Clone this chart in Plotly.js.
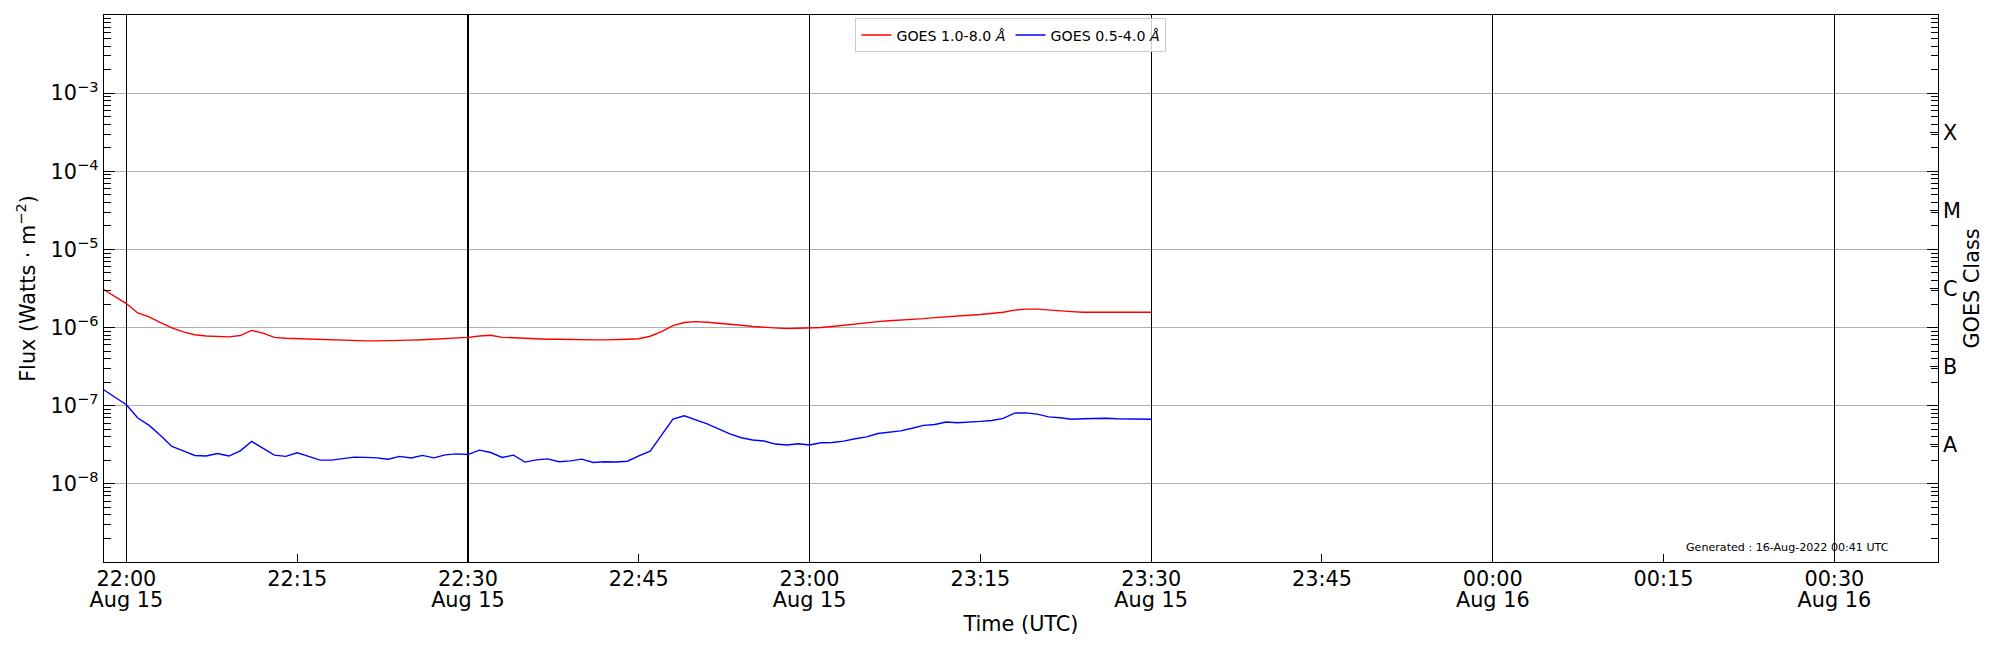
<!DOCTYPE html>
<html>
<head>
<meta charset="utf-8">
<script src="https://cdn.plot.ly/plotly-3.0.1.min.js"></script>
<style>
  html, body { margin: 0; padding: 0; background: #fff; }
  #goes { width: 2000px; height: 650px; }
</style>
</head>
<body>
<div id="goes"></div>
<script>
// 1-minute samples, 15 Aug 2022
const sampleTimes = [
  '21:58', '21:59',
  '22:00', '22:01', '22:02', '22:03', '22:04', '22:05', '22:06', '22:07', '22:08', '22:09',
  '22:10', '22:11', '22:12', '22:13', '22:14', '22:15', '22:16', '22:17', '22:18', '22:19',
  '22:20', '22:21', '22:22', '22:23', '22:24', '22:25', '22:26', '22:27', '22:28', '22:29',
  '22:30', '22:31', '22:32', '22:33', '22:34', '22:35', '22:36', '22:37', '22:38', '22:39',
  '22:40', '22:41', '22:42', '22:43', '22:44', '22:45', '22:46', '22:47', '22:48', '22:49',
  '22:50', '22:51', '22:52', '22:53', '22:54', '22:55', '22:56', '22:57', '22:58', '22:59',
  '23:00', '23:01', '23:02', '23:03', '23:04', '23:05', '23:06', '23:07', '23:08', '23:09',
  '23:10', '23:11', '23:12', '23:13', '23:14', '23:15', '23:16', '23:17', '23:18', '23:19',
  '23:20', '23:21', '23:22', '23:23', '23:24', '23:25', '23:26', '23:27', '23:28', '23:29',
  '23:30',
];

// GOES 1.0-8.0 A (W/m^2)
const fluxLong = [
  3.07e-6, 2.52e-6,
  2.03e-6, 1.54e-6, 1.37e-6, 1.16e-6, 9.9e-7, 8.8e-7, 8.1e-7, 7.8e-7, 7.7e-7, 7.6e-7,
  7.9e-7, 9.2e-7, 8.5e-7, 7.5e-7, 7.3e-7, 7.2e-7, 7.15e-7, 7.0e-7, 6.95e-7, 6.9e-7,
  6.8e-7, 6.75e-7, 6.75e-7, 6.75e-7, 6.8e-7, 6.9e-7, 7.0e-7, 7.1e-7, 7.2e-7, 7.4e-7,
  7.5e-7, 7.8e-7, 7.97e-7, 7.5e-7, 7.37e-7, 7.2e-7, 7.15e-7, 7.1e-7, 7.1e-7, 7.0e-7,
  7.0e-7, 6.95e-7, 6.95e-7, 6.95e-7, 7.1e-7, 7.2e-7, 7.74e-7, 8.9e-7, 1.06e-6, 1.16e-6,
  1.19e-6, 1.17e-6, 1.14e-6, 1.10e-6, 1.07e-6, 1.03e-6, 1.01e-6, 9.9e-7, 9.7e-7, 9.8e-7,
  9.8e-7, 1.0e-6, 1.03e-6, 1.07e-6, 1.11e-6, 1.16e-6, 1.19e-6, 1.22e-6, 1.24e-6, 1.27e-6,
  1.30e-6, 1.34e-6, 1.38e-6, 1.41e-6, 1.44e-6, 1.47e-6, 1.51e-6, 1.57e-6, 1.67e-6, 1.72e-6,
  1.72e-6, 1.67e-6, 1.64e-6, 1.60e-6, 1.57e-6, 1.57e-6, 1.57e-6, 1.56e-6, 1.57e-6, 1.57e-6,
  1.57e-6,
];

// GOES 0.5-4.0 A (W/m^2)
const fluxShort = [
  1.60e-7, 1.29e-7,
  1.03e-7, 6.95e-8, 5.6e-8, 4.17e-8, 3.01e-8, 2.65e-8, 2.31e-8, 2.27e-8, 2.45e-8, 2.27e-8,
  2.65e-8, 3.49e-8, 2.85e-8, 2.33e-8, 2.25e-8, 2.5e-8, 2.25e-8, 2.01e-8, 2.01e-8, 2.1e-8,
  2.2e-8, 2.18e-8, 2.15e-8, 2.07e-8, 2.25e-8, 2.14e-8, 2.31e-8, 2.15e-8, 2.35e-8, 2.42e-8,
  2.37e-8, 2.7e-8, 2.52e-8, 2.18e-8, 2.33e-8, 1.90e-8, 2.03e-8, 2.09e-8, 1.92e-8, 1.97e-8,
  2.07e-8, 1.88e-8, 1.92e-8, 1.90e-8, 1.95e-8, 2.28e-8, 2.62e-8, 4.2e-8, 6.74e-8, 7.44e-8,
  6.6e-8, 5.87e-8, 5.07e-8, 4.37e-8, 3.89e-8, 3.64e-8, 3.53e-8, 3.23e-8, 3.14e-8, 3.26e-8,
  3.14e-8, 3.36e-8, 3.39e-8, 3.52e-8, 3.78e-8, 3.99e-8, 4.41e-8, 4.63e-8, 4.76e-8, 5.14e-8,
  5.6e-8, 5.75e-8, 6.18e-8, 6.06e-8, 6.12e-8, 6.3e-8, 6.48e-8, 6.89e-8, 8.05e-8, 8.1e-8,
  7.8e-8, 7.2e-8, 7.0e-8, 6.7e-8, 6.8e-8, 6.9e-8, 6.9e-8, 6.8e-8, 6.8e-8, 6.8e-8,
  6.7e-8,
];

// 15-minute time labels; the date line comes from the 30-minute overlay axis
const tickTimes = [
  '2022-08-15 22:00', '2022-08-15 22:15', '2022-08-15 22:30', '2022-08-15 22:45',
  '2022-08-15 23:00', '2022-08-15 23:15', '2022-08-15 23:30', '2022-08-15 23:45',
  '2022-08-16 00:00', '2022-08-16 00:15', '2022-08-16 00:30',
];
const tickLabels = [
  '22:00', '22:15', '22:30', '22:45', '23:00', '23:15',
  '23:30', '23:45', '00:00', '00:15', '00:30',
];

const fluxTicks = [1e-8, 1e-7, 1e-6, 1e-5, 1e-4, 1e-3];
const fluxLabels = [
  '10<sup>−8</sup>', '10<sup>−7</sup>', '10<sup>−6</sup>',
  '10<sup>−5</sup>', '10<sup>−4</sup>', '10<sup>−3</sup>',
];
const classTicks = [3.16e-8, 3.16e-7, 3.16e-6, 3.16e-5, 3.16e-4];
const classLabels = ['A', 'B', 'C', 'M', 'X'];

const timeRange = ['2022-08-15 21:58:02', '2022-08-16 00:39:06'];
const fluxRange = [-9, -2];
const FONT = 'DejaVu Sans, sans-serif';
const FS = 20.8;

const x = sampleTimes.map((t) => `2022-08-15 ${t}`);

// red on x/y, blue on the overlay x2/y2 (same scales) so both overlay axes get drawn
const traces = [
  {
    x: x,
    y: fluxLong,
    xaxis: 'x',
    yaxis: 'y',
    type: 'scatter',
    mode: 'lines',
    name: 'GOES 1.0-8.0 <i>Å</i>',
    line: { color: '#ff0000', width: 1.4 },
  },
  {
    x: x,
    y: fluxShort,
    xaxis: 'x2',
    yaxis: 'y2',
    type: 'scatter',
    mode: 'lines',
    name: 'GOES 0.5-4.0 <i>Å</i>',
    line: { color: '#0000ff', width: 1.4 },
  },
];

const layout = {
  width: 2000,
  height: 650,
  margin: { l: 104, r: 62, t: 15, b: 88 },
  paper_bgcolor: '#ffffff',
  plot_bgcolor: '#ffffff',
  font: { family: FONT, color: '#000', size: FS },
  showlegend: true,
  legend: {
    orientation: 'h',
    x: 0.4945,
    xanchor: 'center',
    y: 0.994,
    yanchor: 'top',
    bgcolor: 'rgba(255,255,255,0.8)',
    bordercolor: '#cccccc',
    borderwidth: 1,
    font: { size: 14.2, family: FONT },
  },
  xaxis: {
    type: 'date',
    range: timeRange,
    tickmode: 'array',
    tickvals: tickTimes,
    ticktext: tickLabels,
    ticks: 'inside',
    ticklen: 8,
    tickcolor: '#000',
    tickfont: { size: FS, family: FONT },
    ticklabelstandoff: -2,
    showgrid: false,
    zeroline: false,
    showline: true,
    linecolor: '#000',
    linewidth: 1.4,
    mirror: true,
    automargin: true,
    title: { text: 'Time (UTC)', font: { size: FS, family: FONT }, standoff: 26 },
  },
  xaxis2: {
    type: 'date',
    overlaying: 'x',
    anchor: 'y2',
    side: 'bottom',
    range: timeRange,
    tick0: '2022-08-15 22:00',
    dtick: 30 * 60 * 1000,
    tickformat: '%b %d',
    tickfont: { size: FS, family: FONT },
    ticklabelstandoff: 23,
    ticks: '',
    showgrid: true,
    gridcolor: '#000000',
    gridwidth: 1.3,
    zeroline: false,
    showline: false,
  },
  yaxis: {
    type: 'log',
    range: fluxRange,
    tickmode: 'array',
    tickvals: fluxTicks,
    ticktext: fluxLabels,
    ticks: 'inside',
    ticklen: 11,
    tickcolor: '#000',
    tickfont: { size: FS, family: FONT },
    ticklabelstandoff: 0,
    minor: { tickmode: 'linear', dtick: 'D1', ticks: 'inside', ticklen: 7, tickcolor: '#000', showgrid: false },
    showgrid: true,
    gridcolor: '#b0b0b0',
    gridwidth: 1,
    zeroline: false,
    showline: true,
    linecolor: '#000',
    linewidth: 1.4,
    mirror: 'allticks',
    automargin: true,
    title: { text: 'Flux (Watts · m<sup>−2</sup>)', font: { size: FS, family: FONT }, standoff: 9 },
  },
  yaxis2: {
    type: 'log',
    overlaying: 'y',
    anchor: 'x2',
    side: 'right',
    range: fluxRange,
    tickmode: 'array',
    tickvals: classTicks,
    ticktext: classLabels,
    ticks: 'inside',
    ticklen: 8,
    tickcolor: '#000',
    tickfont: { size: FS, family: FONT },
    ticklabelstandoff: 4,
    showgrid: false,
    zeroline: false,
    showline: false,
    automargin: true,
    title: { text: 'GOES Class', font: { size: FS, family: FONT }, standoff: 4 },
  },
  annotations: [
    {
      xref: 'paper',
      yref: 'paper',
      x: 0.9744,
      y: 0.027,
      xanchor: 'right',
      yanchor: 'middle',
      showarrow: false,
      text: 'Generated : 16-Aug-2022 00:41 UTC',
      font: { size: 11.1, family: FONT, color: '#000' },
    },
  ],
};

Plotly.newPlot('goes', traces, layout, { staticPlot: true, displayModeBar: false });
</script>
</body>
</html>
